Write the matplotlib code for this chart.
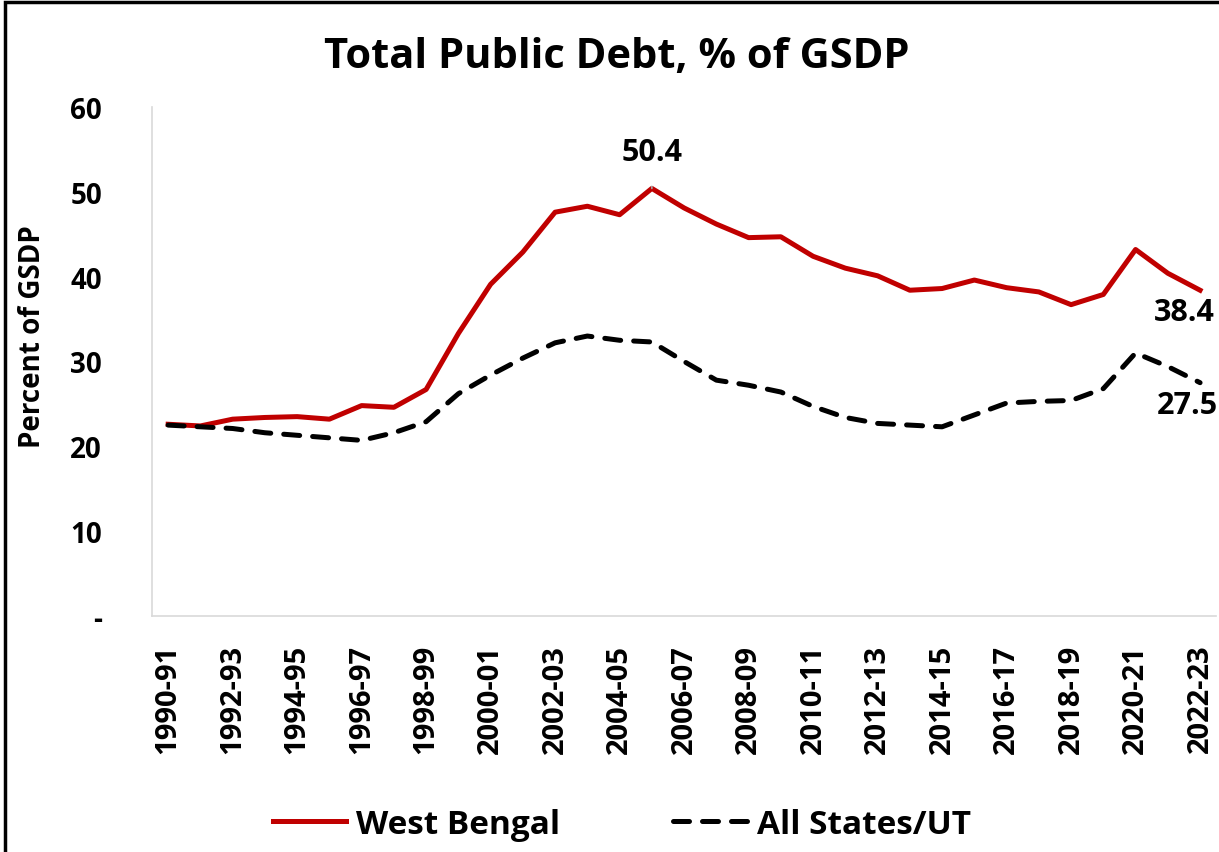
import matplotlib
matplotlib.use('Agg')
import matplotlib.pyplot as plt
from matplotlib.patches import Rectangle

# ==================== DATA ====================

years = [f"{y}-{str(y + 1)[-2:]}" for y in range(1990, 2023)]

west_bengal = [22.6, 22.4, 23.2, 23.4, 23.5, 23.2, 24.8, 24.6, 26.7, 33.3,
               39.1, 42.9, 47.6, 48.3, 47.3, 50.4, 48.1, 46.2, 44.6, 44.7,
               42.4, 41.0, 40.1, 38.4, 38.6, 39.6, 38.7, 38.2, 36.7, 37.9,
               43.2, 40.4, 38.4]

all_states = [22.5, 22.3, 22.1, 21.6, 21.3, 21.0, 20.7, 21.6, 22.9, 26.2,
              28.4, 30.4, 32.2, 33.0, 32.5, 32.3, 30.0, 27.8, 27.2, 26.4,
              24.7, 23.4, 22.7, 22.5, 22.3, 23.7, 25.1, 25.3, 25.4, 26.8,
              31.0, 29.4, 27.5]

y_ticks = [0, 10, 20, 30, 40, 50, 60]
y_tick_labels = ["-", "10", "20", "30", "40", "50", "60"]

# ==================== PLOT ====================

plt.rcParams['font.family'] = ['Open Sans', 'DejaVu Sans']
plt.rcParams['font.weight'] = 'bold'

fig = plt.figure(figsize=(12.19, 8.53), dpi=100)
ax = fig.add_axes([0.1247, 0.2767, 0.8730, 0.5967])

x = list(range(len(years)))
ax.plot(x, west_bengal, color='#C00000', linewidth=3.6, label='West Bengal')
ax.plot(x, all_states, color='black', linewidth=3.6, linestyle=(0, (3.2, 2.6)),
        label='All States/UT', dash_capstyle='round')

ax.set_xlim(-0.5, len(years) - 0.5)
ax.set_ylim(0, 60)
ax.set_yticks(y_ticks)
ax.set_yticklabels(y_tick_labels, fontsize=20, fontweight='bold')
ax.set_xticks(x[::2])
ax.set_xticklabels(years[::2], rotation=90, fontsize=21, fontweight='bold')
ax.tick_params(axis='both', length=0)
ax.tick_params(axis='x', pad=20)
ax.tick_params(axis='y', pad=36)

for side in ['top', 'right']:
    ax.spines[side].set_visible(False)
for side in ['left', 'bottom']:
    ax.spines[side].set_color('#D9D9D9')
    ax.spines[side].set_linewidth(1.2)

ax.set_ylabel('Percent of GSDP', fontsize=20, fontweight='bold')
ax.yaxis.set_label_coords(-0.099, 0.55)

# data labels
peak = west_bengal.index(max(west_bengal))
ax.annotate(f"{west_bengal[peak]:.1f}", xy=(peak, west_bengal[peak]),
            xytext=(peak, west_bengal[peak] + 4.3), ha='center', va='center',
            fontsize=22, fontweight='bold',
            arrowprops=dict(arrowstyle='-', color='#A6A6A6', lw=1.2,
                            shrinkA=12, shrinkB=0))
ax.annotate(f"{west_bengal[-1]:.1f}", xy=(x[-1], west_bengal[-1]),
            xytext=(-33, -16), textcoords='offset points', ha='left',
            va='center', fontsize=22, fontweight='bold', annotation_clip=False)
ax.annotate(f"{all_states[-1]:.1f}", xy=(x[-1], all_states[-1]),
            xytext=(-31, -16), textcoords='offset points', ha='left',
            va='center', fontsize=22, fontweight='bold', annotation_clip=False)

fig.suptitle('Total Public Debt, % of GSDP', fontsize=30, fontweight='bold',
             x=0.506, y=0.933, va='center')

fig.legend(loc='lower center', bbox_to_anchor=(0.51, -0.022), ncol=2,
           frameon=False, prop={'size': 24, 'weight': 'bold'},
           handlelength=2.2, handletextpad=0.3, columnspacing=3.4)

# outer frame (only top and left edges fall inside the picture)
fig.patches.append(Rectangle((0.004, -0.1), 1.2, 1.096, transform=fig.transFigure,
                             fill=False, edgecolor='black', linewidth=2.5))

fig.savefig('out.png', dpi=100)
